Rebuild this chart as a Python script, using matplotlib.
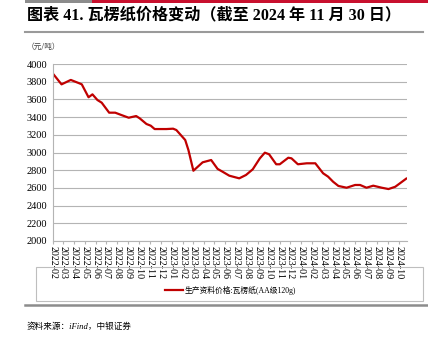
import matplotlib
matplotlib.use("Agg")
import matplotlib.pyplot as plt
import matplotlib.dates as mdates
import pandas as pd
from matplotlib.lines import Line2D
from matplotlib.patches import Rectangle

# 瓦楞纸(AA级120g) price, yuan/ton
DATES = [
    "2022-02-01", "2022-02-25", "2022-03-23", "2022-04-16", "2022-04-23",
    "2022-05-12", "2022-05-23", "2022-06-06", "2022-06-18", "2022-07-09",
    "2022-07-26", "2022-08-12", "2022-09-02", "2022-09-23", "2022-10-03",
    "2022-10-22", "2022-11-03", "2022-11-14", "2022-12-17", "2023-01-05",
    "2023-01-14", "2023-02-08", "2023-02-17", "2023-03-03", "2023-03-29",
    "2023-04-22", "2023-05-10", "2023-05-24", "2023-06-12", "2023-07-10",
    "2023-07-29", "2023-08-17", "2023-09-06", "2023-09-20", "2023-10-02",
    "2023-10-22", "2023-11-01", "2023-11-25", "2023-12-04", "2023-12-22",
    "2024-01-16", "2024-02-09", "2024-03-02", "2024-03-16", "2024-03-30",
    "2024-04-14", "2024-05-07", "2024-05-31", "2024-06-14", "2024-07-02",
    "2024-07-21", "2024-08-14", "2024-09-02", "2024-09-21", "2024-10-23",
]
PRICES = [
    3890, 3770, 3820, 3782, 3770,
    3624, 3657, 3593, 3563, 3450,
    3450, 3424, 3393, 3412, 3386,
    3322, 3303, 3265, 3265, 3269,
    3254, 3141, 3028, 2794, 2889,
    2915, 2815, 2783, 2738, 2708,
    2746, 2810, 2934, 2998, 2980,
    2867, 2867, 2941, 2934, 2867,
    2878, 2878, 2765, 2727, 2670,
    2622, 2602, 2633, 2633, 2602,
    2625, 2602, 2587, 2613, 2708,
]

TITLE = "图表 41. 瓦楞纸价格变动（截至 2024 年 11 月 30 日）"
UNIT = "（元/吨）"
SERIES = "生产资料价格:瓦楞纸(AA级120g)"
SOURCE = "资料来源：iFind，中银证券"

RED = "#C00000"
GRID = "#B4B4B4"

plt.rcParams["font.family"] = ["Liberation Serif", "Noto Sans CJK SC"]

dates = pd.to_datetime(DATES)

fig = plt.figure(figsize=(4.28, 3.49), dpi=100)
W, H = 428, 349

def fx(px):
    return px / W

def fy(py):
    return 1 - py / H

ax = fig.add_axes([fx(53), fy(241), fx(407) - fx(53), fy(64) - fy(241)])
ax.plot(dates, PRICES, color=RED, lw=1.6, solid_capstyle="round", solid_joinstyle="round")

ax.set_ylim(2000, 4000)
ax.set_yticks(range(2000, 4001, 200))
ax.set_xlim(pd.Timestamp("2022-02-01"), pd.Timestamp("2024-10-24"))
ax.xaxis.set_major_locator(mdates.MonthLocator())
ax.xaxis.set_major_formatter(mdates.DateFormatter("%Y-%m"))
ax.grid(axis="y", color=GRID, lw=0.8)
ax.set_axisbelow(True)
for s in ["top", "right"]:
    ax.spines[s].set_visible(False)
for s in ["left", "bottom"]:
    ax.spines[s].set_color(GRID)
    ax.spines[s].set_linewidth(0.8)
ax.tick_params(axis="y", length=0, labelsize=7.5, pad=4)
ax.tick_params(axis="x", length=2.5, color=GRID, labelsize=7.2, pad=1)
for lab in ax.get_xticklabels():
    lab.set_rotation(270)
    lab.set_va("top")
    lab.set_ha("center")

# header bars and title
fig.add_artist(Rectangle((fx(25), fy(3)), fx(92) - fx(25), 3 / H, color="#8C8C8C", lw=0))
fig.add_artist(Rectangle((fx(92), fy(3)), 1 - fx(92), 3 / H, color="#C8102E", lw=0))
fig.text(fx(27), fy(15), TITLE, fontsize=11.6, fontweight="bold",
         family=["Liberation Serif", "Noto Sans CJK SC"], va="center", ha="left")
fig.add_artist(Line2D([fx(25), fx(423)], [fy(32), fy(32)], color="#9A9A9A", lw=1.5))
fig.text(fx(27), fy(47), UNIT, fontsize=5.5, color="#404040",
         family=["Noto Sans CJK SC"], va="center", ha="left")

# legend box
fig.add_artist(Rectangle((fx(36), fy(301)), fx(423) - fx(36), 34 / H,
                         fill=False, ec="#BEBEBE", lw=0.8))
fig.add_artist(Line2D([fx(165), fx(183)], [fy(290), fy(290)], color=RED, lw=1.6))
fig.text(fx(185), fy(290), SERIES, fontsize=5.6, va="center", ha="left",
         family=["Liberation Serif", "Noto Sans CJK SC"])

# footer
fig.add_artist(Line2D([fx(25), 1], [fy(305), fy(305)], color="#8C8C8C", lw=1.8))
fig.text(fx(27), fy(327), SOURCE, fontsize=6.2, style="italic", va="center", ha="left",
         family=["Liberation Serif", "Noto Sans CJK SC"])

fig.savefig("out.png", dpi=100)
